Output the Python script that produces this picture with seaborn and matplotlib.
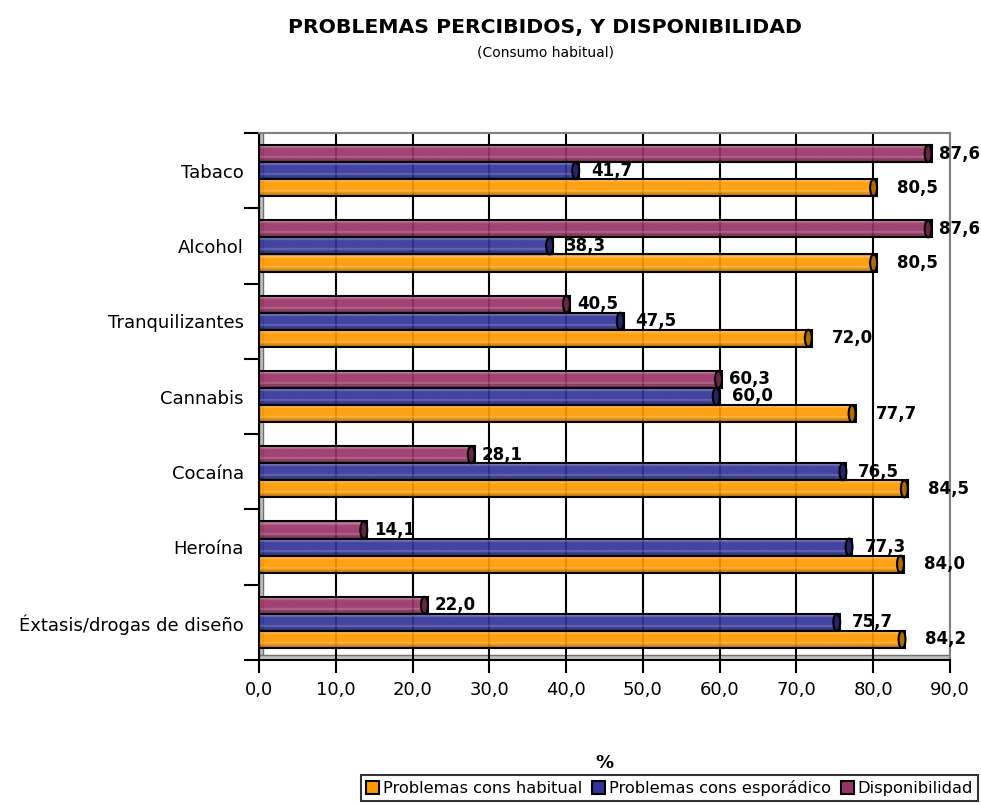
import matplotlib
matplotlib.use("Agg")
import matplotlib.pyplot as plt
import numpy as np
import pandas as pd
import seaborn as sns
from matplotlib.colors import LinearSegmentedColormap, to_rgb
from matplotlib.patches import Ellipse, Patch

categorias = ["Tabaco", "Alcohol", "Tranquilizantes", "Cannabis", "Cocaína", "Heroína",
              "Éxtasis/drogas de diseño"]
habitual = [80.5, 80.5, 72.0, 77.7, 84.5, 84.0, 84.2]
esporadico = [41.7, 38.3, 47.5, 60.0, 76.5, 77.3, 75.7]
disponibilidad = [87.6, 87.6, 40.5, 60.3, 28.1, 14.1, 22.0]
x_ticks = [0, 10, 20, 30, 40, 50, 60, 70, 80, 90]

series = ["Problemas cons habitual", "Problemas cons esporádico", "Disponibilidad"]
colores = {"Problemas cons habitual": "#FF9900",
           "Problemas cons esporádico": "#333399",
           "Disponibilidad": "#993366"}
# offset of the value labels from the bar end, in pixels
label_offset = {"Problemas cons habitual": 20,
                "Problemas cons esporádico": 12,
                "Disponibilidad": 7}

df = pd.DataFrame({
    "categoria": categorias * 3,
    "serie": [series[0]] * 7 + [series[1]] * 7 + [series[2]] * 7,
    "valor": habitual + esporadico + disponibilidad,
})


def mix(c, other, t):
    c = np.array(to_rgb(c))
    return tuple(c + (np.array(other) - c) * t)


def cylinder_cmap(c):
    black, white = (0, 0, 0), (1, 1, 1)
    stops = [(0.0, mix(c, black, 0.25)), (0.12, mix(c, white, 0.35)), (0.25, to_rgb(c)),
             (0.65, to_rgb(c)), (0.72, mix(c, white, 0.25)), (0.80, mix(c, black, 0.08)),
             (1.0, mix(c, black, 0.35))]
    return LinearSegmentedColormap.from_list("cyl", stops)


sns.set_style("white")
plt.rcParams["font.family"] = ["DejaVu Sans"]
plt.rcParams["text.color"] = "black"
plt.rcParams["axes.labelcolor"] = "black"
plt.rcParams["xtick.color"] = "black"
plt.rcParams["ytick.color"] = "black"

fig = plt.figure(figsize=(9.81, 8.05), dpi=100)
ax = fig.add_axes([259 / 981, 1 - 660 / 805, (950 - 259) / 981, (660 - 133) / 805])

hue_order = ["Disponibilidad", "Problemas cons esporádico", "Problemas cons habitual"]
sns.barplot(data=df, y="categoria", x="valor", hue="serie", hue_order=hue_order,
            order=categorias, palette=colores, width=0.68, orient="h",
            edgecolor="black", linewidth=1.5, legend=False, ax=ax)

ax.set_xlim(0, 90)
ax.set_ylim(len(categorias) - 0.5, -0.5)

# wall and floor of the 3D look
ax.axvspan(0, 0.55, facecolor="#C0C0C0", edgecolor="#707070", lw=1, zorder=0.5)
ax.axhspan(6.43, 6.5, facecolor="#C0C0C0", edgecolor="#707070", lw=1, zorder=0.5)

grad = np.linspace(0, 1, 80).reshape(-1, 1)
for cont, name in zip(ax.containers, hue_order):
    cmap = cylinder_cmap(colores[name])
    for bar in cont:
        x, y, w, h = bar.get_x(), bar.get_y(), bar.get_width(), bar.get_height()
        bar.set_facecolor("none")
        bar.set_zorder(3)
        ax.imshow(grad, cmap=cmap, extent=[x, x + w, y + h, y], aspect="auto",
                  clip_path=bar, zorder=2, alpha=0.92, interpolation="bilinear")
        ax.add_patch(Ellipse((x + w - 0.45, y + h / 2), 0.9, h,
                             facecolor=mix(colores[name], (0, 0, 0), 0.3),
                             edgecolor="black", lw=1.5, zorder=4))
        ax.annotate(f"{w:.1f}".replace(".", ","), xy=(x + w, y + h / 2),
                    xytext=(label_offset[name], 0), textcoords="offset pixels",
                    ha="left", va="center", fontsize=12, fontweight="bold", zorder=5)

ax.set_xlim(0, 90)
ax.set_ylim(len(categorias) - 0.5, -0.5)

ax.set_xticks(x_ticks)
ax.set_xticklabels([f"{t:.1f}".replace(".", ",") for t in x_ticks], fontsize=13)
ax.set_yticks(np.arange(-0.5, len(categorias), 1), minor=True)
ax.tick_params(axis="y", which="major", left=True, length=0, pad=11, labelsize=13)
ax.tick_params(axis="y", which="minor", left=True, length=11, width=1.5, color="black")
ax.tick_params(axis="x", which="major", bottom=True, length=9, width=1.5, color="black", pad=6)

ax.set_axisbelow(True)
ax.xaxis.grid(True, color="black", lw=1.5)
ax.yaxis.grid(False)

for side in ["left", "bottom"]:
    ax.spines[side].set_color("black")
    ax.spines[side].set_linewidth(1.5)
for side in ["top", "right"]:
    ax.spines[side].set_color("#808080")
    ax.spines[side].set_linewidth(1.5)

ax.set_ylabel("")
ax.set_xlabel("%", fontsize=13, fontweight="bold")
ax.xaxis.set_label_coords(0.5, -0.178)

fig.text(0.556, 1 - 28 / 805, "PROBLEMAS PERCIBIDOS, Y DISPONIBILIDAD",
         ha="center", va="center", fontsize=14.7, fontweight="bold")
fig.text(0.556, 1 - 53 / 805, "(Consumo habitual)", ha="center", va="center", fontsize=10)

handles = [Patch(facecolor=colores[s], edgecolor="black", lw=1.5, label=s) for s in series]
leg = fig.legend(handles=handles, loc="lower right", bbox_to_anchor=(0.997, 0.005), ncol=3,
                 fontsize=11.7, frameon=True, fancybox=False, borderpad=0.3,
                 handlelength=0.8, handleheight=0.8, handletextpad=0.25, columnspacing=0.6,
                 borderaxespad=0)
leg.get_frame().set_edgecolor("black")
leg.get_frame().set_linewidth(1.5)

fig.savefig("out.png", dpi=100)
